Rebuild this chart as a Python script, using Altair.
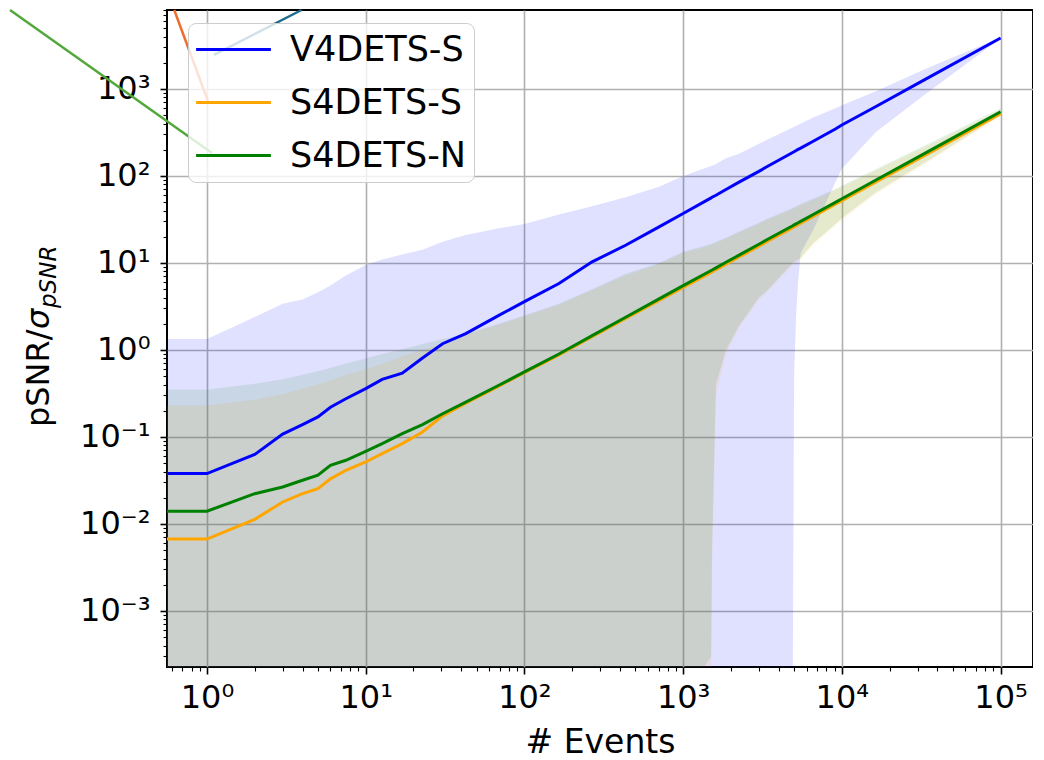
import altair as alt
import pandas as pd

# ---------------- data ----------------
SERIES = ["V4DETS-S", "S4DETS-S", "S4DETS-N"]
COLORS = ["#0000ff", "#ffa500", "#008000"]
BAND_OPACITY = [0.12, 0.10, 0.10]

N_EVENTS = [0.5, 1, 2, 3, 4, 5, 6, 7.5, 10, 12.7, 17, 22.8, 30.5, 42.7, 69, 100,
            165, 267, 434, 705, 1000, 1500, 1520, 1610, 1860, 2250, 3000, 3300,
            4900, 5000, 5150, 5300, 5500, 6600, 9100, 10000, 16400, 33500, 100000]

V4S_MEAN = [0.038, 0.038, 0.063, 0.108, 0.139, 0.17, 0.22, 0.275, 0.36, 0.46, 0.54,
            0.81, 1.18, 1.54, 2.5, 3.6, 5.8, 10.3, 16, 26, 37, 56, 57, 60, 70, 85,
            113, 125, 186, 190, 196, 202, 209, 251, 347, 385, 630, 1290, 3850]
V4S_HI = [1.34, 1.34, 2.4, 3.4, 3.8, 4.6, 5.5, 7.2, 9.5, 11, 12.5, 14.2, 17.5, 21,
          25, 28, 36, 45, 57, 75, 100, 130, 131, 137, 160, 180, 235, 255, 360, 368,
          377, 386, 400, 470, 600, 650, 940, 1700, 3900]
V4S_LO = [1e-4, 1e-4, 1e-4, 1e-4, 1e-4, 1e-4, 1e-4, 1e-4, 1e-4, 1e-4, 1e-4, 1e-4,
          1e-4, 1e-4, 1e-4, 1e-4, 1e-4, 1e-4, 1e-4, 1e-4, 1e-4, 1e-4, 1e-4, 1e-4,
          1e-4, 1e-4, 1e-4, 1e-4, 1e-4, 0.5, 2.5, 6, 13, 24, 85, 121, 320, 870, 3800]

S4S_MEAN = [0.0067, 0.0067, 0.0113, 0.0179, 0.0223, 0.0255, 0.033, 0.0414, 0.0516,
            0.0645, 0.0838, 0.114, 0.175, 0.245, 0.385, 0.55, 0.88, 1.42, 2.3, 3.72,
            5.25, 7.8, 7.9, 8.4, 9.7, 11.7, 15.6, 17.2, 25.5, 26, 26.8, 27.6, 28.6,
            34.3, 47.3, 52, 85.5, 174, 520]
S4S_HI = [0.23, 0.23, 0.27, 0.31, 0.36, 0.4, 0.45, 0.52, 0.6, 0.69, 0.85, 1.0, 1.2,
          1.5, 1.95, 2.45, 3.3, 4.85, 7.2, 9.7, 13, 16, 16.2, 17, 19, 22.3, 28, 30.5,
          41.5, 42.5, 43.5, 44.5, 46, 53, 69, 74.5, 116, 217, 570]
S4S_LO = [1e-4, 1e-4, 1e-4, 1e-4, 1e-4, 1e-4, 1e-4, 1e-4, 1e-4, 1e-4, 1e-4, 1e-4,
          1e-4, 1e-4, 1e-4, 1e-4, 1e-4, 1e-4, 1e-4, 1e-4, 1e-4, 1e-4, 0.003, 0.3,
          0.9, 1.8, 3.8, 4.4, 9.5, 9.7, 10, 10.5, 11, 16, 27, 31, 62, 138, 480]

S4N_MEAN = [0.014, 0.014, 0.0223, 0.0266, 0.0318, 0.0363, 0.0472, 0.054, 0.0684,
            0.0838, 0.109, 0.139, 0.185, 0.252, 0.393, 0.56, 0.9, 1.46, 2.38, 3.87,
            5.5, 8.2, 8.3, 8.8, 10.2, 12.3, 16.4, 18.1, 26.8, 27.4, 28.2, 29, 30.1,
            36.1, 49.8, 54.7, 90, 183, 547]
S4N_HI = [0.35, 0.35, 0.41, 0.46, 0.52, 0.57, 0.62, 0.7, 0.8, 0.9, 1.02, 1.17, 1.33,
          1.55, 2.0, 2.5, 3.4, 5.0, 7.5, 10, 13.5, 16.5, 16.7, 17.5, 19.5, 23, 29,
          31.6, 43, 44, 45, 46, 47.5, 55, 71, 77, 120, 225, 600]
S4N_LO = [1e-4, 1e-4, 1e-4, 1e-4, 1e-4, 1e-4, 1e-4, 1e-4, 1e-4, 1e-4, 1e-4, 1e-4,
          1e-4, 1e-4, 1e-4, 1e-4, 1e-4, 1e-4, 1e-4, 1e-4, 1e-4, 3e-4, 0.005, 0.4,
          1.0, 1.9, 4.0, 4.6, 10, 10.3, 10.6, 11, 11.5, 17, 28, 33, 65, 144, 500]

# stray pointer lines that cross the top-left corner of the reference (data coords)
ANNOT_X1 = [0.0574, 0.622, 3.94]
ANNOT_Y1 = [8090, 8090, 8090]
ANNOT_X2 = [1.075, 1.0146, 1.107]
ANNOT_Y2 = [184, 728, 2460]
ANNOT_COLORS = ["#52a83a", "#ee6e2e", "#1f6b8c"]

X_MAJOR = [1, 10, 100, 1000, 10000, 100000]
X_LABELS = ["10⁰", "10¹", "10²", "10³", "10⁴", "10⁵"]
Y_MAJOR = [0.001, 0.01, 0.1, 1, 10, 100, 1000]
Y_LABELS = ["10⁻³", "10⁻²", "10⁻¹", "10⁰", "10¹", "10²", "10³"]

X_DOMAIN = [0.56, 1.6e5]
Y_DOMAIN = [2.27e-4, 8090]

# ---------------- build tables ----------------
rows = []
for name, mean, lo, hi in [
    (SERIES[0], V4S_MEAN, V4S_LO, V4S_HI),
    (SERIES[1], S4S_MEAN, S4S_LO, S4S_HI),
    (SERIES[2], S4N_MEAN, S4N_LO, S4N_HI),
]:
    for n, m, l, h in zip(N_EVENTS, mean, lo, hi):
        rows.append({"N": n, "mean": m, "lo": l, "hi": h, "series": name})
df = pd.DataFrame(rows)

annot = pd.DataFrame({"x1": ANNOT_X1, "y1": ANNOT_Y1, "x2": ANNOT_X2,
                      "y2": ANNOT_Y2, "c": ANNOT_COLORS})


def minors(lo_exp, hi_exp, lo, hi):
    out = []
    for k in range(lo_exp, hi_exp + 1):
        for m in range(2, 10):
            v = round(m * 10.0 ** k, 12)
            if lo <= v <= hi:
                out.append(v)
    return out


X_MINOR = minors(-1, 5, X_DOMAIN[0], X_DOMAIN[1])
Y_MINOR = minors(-4, 3, Y_DOMAIN[0], Y_DOMAIN[1])


def is_major(values):
    return "indexof([" + ",".join(repr(float(v)) for v in values) + "], datum.value) >= 0"


def label_expr(values, labels):
    expr = "''"
    for v, l in reversed(list(zip(values, labels))):
        expr = f"datum.value == {float(v)!r} ? '{l}' : {expr}"
    return expr


def make_axis(major, labels, minor, title, label_pad):
    test = is_major(major)
    kw = dict(
        values=major + minor,
        labelExpr=label_expr(major, labels),
        labelOverlap=False,
        labelFlush=False,
        labelFontSize={"condition": {"test": test, "value": 32}, "value": 1},
        labelFont="DejaVu Sans",
        labelColor="black",
        labelPadding=label_pad,
        tickColor="black",
        tickSize={"condition": {"test": test, "value": 7}, "value": 4},
        tickWidth={"condition": {"test": test, "value": 1.6}, "value": 1.1},
        grid=True,
        gridColor="#b0b0b0",
        gridWidth=1.6,
        gridOpacity={"condition": {"test": test, "value": 1}, "value": 0},
        domain=False,
    )
    if title is None:
        kw["title"] = None
    else:
        kw.update(title=title, titleFontSize=33, titleFont="DejaVu Sans",
                  titleFontWeight="normal", titleColor="black", titlePadding=13)
    return alt.Axis(**kw)


x_axis = make_axis(X_MAJOR, X_LABELS, X_MINOR, "# Events", 8)
y_axis = make_axis(Y_MAJOR, Y_LABELS, Y_MINOR, None, 10)

xscale = alt.Scale(type="log", domain=X_DOMAIN, nice=False)
yscale = alt.Scale(type="log", domain=Y_DOMAIN, nice=False)
cscale = alt.Scale(domain=SERIES, range=COLORS)

legend = alt.Legend(
    title=None, orient="none", legendX=21, legendY=13, direction="vertical",
    symbolType="M-2.2,0H2.2", symbolSize=34 * 34, symbolStrokeWidth=3,
    symbolOffset=19, labelOffset=38, labelFontSize=35, labelFont="DejaVu Sans",
    labelColor="black", labelLimit=400, padding=8, rowPadding=16,
    fillColor="rgba(255,255,255,0.8)", strokeColor="#cccccc", cornerRadius=8,
)

base = alt.Chart(df)
layers = []
for s, col, op in zip(SERIES, COLORS, BAND_OPACITY):
    layers.append(
        base.transform_filter(alt.datum.series == s)
        .mark_area(color=col, opacity=op, clip=True, interpolate="linear")
        .encode(
            x=alt.X("N:Q", scale=xscale, axis=x_axis),
            y=alt.Y("lo:Q", scale=yscale, axis=y_axis),
            y2="hi:Q",
        )
    )
for s in SERIES:
    layers.append(
        base.transform_filter(alt.datum.series == s)
        .mark_line(strokeWidth=3, clip=True)
        .encode(
            x=alt.X("N:Q", scale=xscale, axis=x_axis),
            y=alt.Y("mean:Q", scale=yscale, axis=y_axis),
            color=alt.Color("series:N", scale=cscale, legend=legend),
        )
    )

for i in range(len(ANNOT_COLORS)):
    layers.append(
        alt.Chart(annot.iloc[[i]])
        .mark_rule(color=ANNOT_COLORS[i], strokeWidth=2.5, clip=False)
        .encode(
            x=alt.X("x1:Q", scale=xscale, axis=x_axis),
            y=alt.Y("y1:Q", scale=yscale, axis=y_axis),
            x2="x2:Q",
            y2="y2:Q",
        )
    )

# y-axis title: pSNR/σ with italic subscript pSNR
one = pd.DataFrame({"a": [0]})
title_parts = [
    ("pSNR/", 32, "normal", -118, 417),
    ("σ", 32, "italic", -118, 319),
    ("pSNR", 23, "italic", -111, 298),
]
for txt, fs, style, px, py in title_parts:
    layers.append(
        alt.Chart(one)
        .mark_text(text=txt, angle=270, align="left", baseline="alphabetic",
                   fontSize=fs, font="DejaVu Sans", fontStyle=style, color="black")
        .encode(x=alt.value(px), y=alt.value(py))
    )

chart = (
    alt.layer(*layers)
    .properties(width=866, height=657,
                padding={"left": 0, "top": 0, "right": 0, "bottom": 0})
    .configure(font="DejaVu Sans")
    .configure_view(stroke="black", strokeWidth=2)
)

chart.save("out.html", embed_options={"renderer": "svg", "actions": False})
